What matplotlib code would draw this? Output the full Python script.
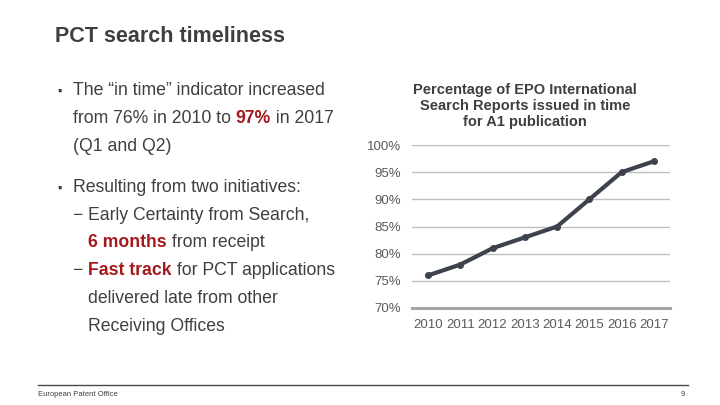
import matplotlib
matplotlib.use("Agg")
import matplotlib.pyplot as plt
from matplotlib.ticker import FuncFormatter

years = ["2010", "2011", "2012", "2013", "2014", "2015", "2016", "2017"]
in_time_pct = [76, 78, 81, 83, 85, 90, 95, 97]
y_ticks = [70, 75, 80, 85, 90, 95, 100]

plt.rcParams['font.family'] = ['Liberation Sans', 'DejaVu Sans']
TXT = '#3f3f3f'
RED = '#a3191c'

fig = plt.figure(figsize=(7.2, 4.05), dpi=100)
W, H = 720, 405

def fx(x): return x / W
def fy(y): return 1 - y / H

# Title
fig.text(fx(55), fy(37), "PCT search timeliness", fontsize=15.5, fontweight='bold',
         color=TXT, va='center', ha='left')

# Footer
fig.add_artist(plt.Line2D([fx(38), fx(688)], [fy(385), fy(385)], color='#4a4a4a', lw=1.0))
fig.text(fx(38), fy(395), "European Patent Office", fontsize=5.5, color=TXT, va='center')
fig.text(fx(685), fy(395), "9", fontsize=5.5, color=TXT, va='center', ha='right')

FS = 12.7

def line(x, y, parts):
    prev = None
    for txt, col in parts:
        wt = 'bold' if col == RED else 'normal'
        if prev is None:
            prev = fig.text(fx(x), fy(y), txt, fontsize=FS, color=col, fontweight=wt,
                            va='baseline', ha='left')
        else:
            prev = fig.add_artist(matplotlib.text.Annotation(
                txt, xy=(1, 0), xycoords=prev, fontsize=FS, color=col, fontweight=wt,
                va='bottom', ha='left'))
    return prev

# bullets and dashes
fig.text(fx(57), fy(95), "▪", fontsize=9, color=TXT, va='baseline')
fig.text(fx(57), fy(192), "▪", fontsize=9, color=TXT, va='baseline')
fig.text(fx(72), fy(220), "−", fontsize=FS, color=TXT, va='baseline')
fig.text(fx(72), fy(275), "−", fontsize=FS, color=TXT, va='baseline')

line(73, 95, [("The “in time” indicator increased", TXT)])
line(73, 123, [("from 76% in 2010 to ", TXT), ("97%", RED), (" in 2017", TXT)])
line(73, 151, [("(Q1 and Q2)", TXT)])
line(73, 192, [("Resulting from two initiatives:", TXT)])
line(88, 220, [("Early Certainty from Search,", TXT)])
line(88, 247, [("6 months", RED), (" from receipt", TXT)])
line(88, 275, [("Fast track", RED), (" for PCT applications", TXT)])
line(88, 303, [("delivered late from other", TXT)])
line(88, 331, [("Receiving Offices", TXT)])

# Chart
ax = fig.add_axes([fx(412), fy(308), fx(670) - fx(412), fy(145) - fy(308)])
x = list(range(len(years)))
ax.plot(x, in_time_pct, color='#3d434c', lw=3, marker='o', markersize=4, zorder=3)
ax.set_xlim(-0.5, len(years) - 0.5)
ax.set_ylim(70, 100)
ax.set_yticks(y_ticks)
ax.yaxis.set_major_formatter(FuncFormatter(lambda v, p: f"{int(v)}%"))
ax.set_xticks(x)
ax.set_xticklabels(years)
for s in ax.spines.values():
    s.set_visible(False)
for t in y_ticks[1:]:
    ax.axhline(t, color='#bfbfbf', lw=1.0, zorder=1)
ax.axhline(70, color='#a6a6a6', lw=2.2, zorder=2, clip_on=False)
ax.tick_params(axis='both', length=0, labelsize=9.5, colors='#5a5a5a')
ax.tick_params(axis='y', pad=8)
ax.tick_params(axis='x', pad=8)
fig.text(fx(525), fy(106), "Percentage of EPO International\nSearch Reports issued in time\nfor A1 publication",
         fontsize=10.5, fontweight='bold', color=TXT, ha='center', va='center', linespacing=1.15)

fig.savefig("out.png", dpi=100)
